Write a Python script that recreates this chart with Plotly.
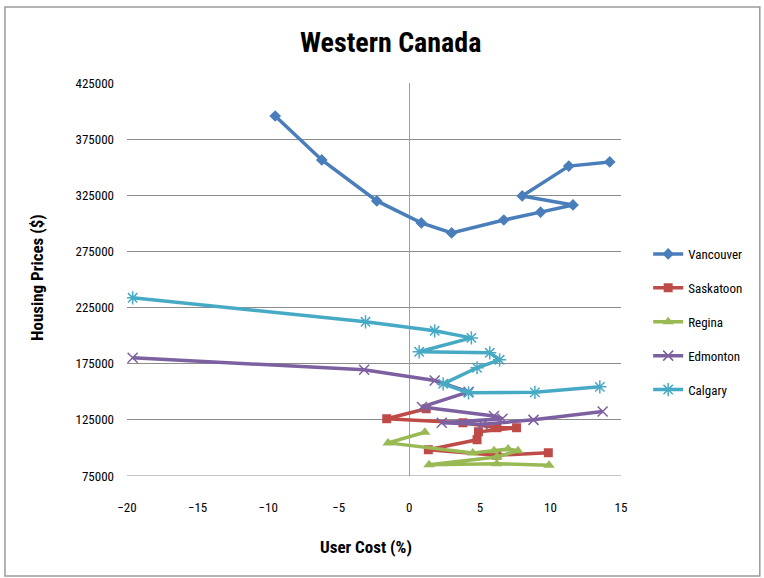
import plotly.graph_objects as go

# User cost (%) vs. housing prices ($) for western Canadian cities
van_x = [-9.5, -6.2, -2.3, 0.85, 3.0, 6.7, 9.3, 11.6, 8.0, 11.3, 14.2]
van_y = [395600, 356500, 320000, 300400, 291500, 303000, 310000, 316400, 324400, 351000, 354700]

sas_x = [1.2, -1.6, 3.8, 6.2, 7.6, 4.9, 4.8, 1.35, 6.2, 9.85]
sas_y = [134900, 126000, 122400, 118000, 118000, 114400, 107300, 98400, 93500, 95700]

reg_x = [1.1, -1.5, 4.5, 6.0, 7.0, 7.7, 6.2, 1.4, 6.2, 9.9]
reg_y = [114000, 104500, 95500, 97500, 99000, 97500, 92000, 85000, 86000, 84500]

edm_x = [-19.6, -3.2, 1.8, 4.2, 0.9, 6.0, 6.6, 2.3, 5.2, 8.8, 13.7]
edm_y = [180300, 169600, 160000, 150000, 136500, 128500, 126000, 122500, 121000, 125000, 132500]

cal_x = [-19.6, -3.1, 1.8, 4.4, 0.7, 5.7, 6.4, 4.8, 2.4, 4.2, 8.9, 13.5]
cal_y = [233700, 212300, 204300, 198000, 185600, 184700, 178500, 171400, 157100, 149100, 149500, 154400]

series = [
    ("Vancouver", van_x, van_y, "#4A7EBB", "diamond", 9),
    ("Saskatoon", sas_x, sas_y, "#BE4B48", "square", 9),
    ("Regina", reg_x, reg_y, "#98B954", "triangle-up", 10),
    ("Edmonton", edm_x, edm_y, "#7D60A0", "x-thin-open", 10),
    ("Calgary", cal_x, cal_y, "#46AAC5", "asterisk-open", 11),
]

font_family = "Liberation Sans Narrow, Roboto Condensed, Liberation Sans, Arial, sans-serif"

fig = go.Figure()
for name, xs, ys, color, sym, size in series:
    marker = dict(symbol=sym, size=size, color=color)
    if sym.endswith("open"):
        marker["line"] = dict(color=color, width=1.5)
    fig.add_trace(go.Scatter(
        x=xs, y=ys, name=name, legendgroup=name, mode="lines+markers",
        line=dict(color=color, width=3.5),
        marker=marker,
    ))

fig.update_layout(
    width=764, height=578,
    margin=dict(l=127, r=143, t=83, b=102),
    paper_bgcolor="white", plot_bgcolor="white",
    font=dict(family=font_family, size=13, color="#000000"),
    showlegend=True,
    legend=dict(
        x=1.055, y=(476 - 322) / 393, xanchor="left", yanchor="middle",
        font=dict(size=13, family=font_family),
        itemwidth=30, tracegroupgap=14,
        bgcolor="rgba(0,0,0,0)",
    ),
    xaxis=dict(
        range=[-20, 15], dtick=5, tick0=-20,
        showgrid=False, zeroline=True, zerolinecolor="#A0A0A0", zerolinewidth=1,
        showline=False, ticks="", ticklabelstandoff=22,
        tickfont=dict(size=13),
    ),
    yaxis=dict(
        range=[75000, 425000], dtick=50000, tick0=75000,
        showgrid=True, gridcolor="#8C8C8C", gridwidth=1,
        zeroline=False, showline=False, ticks="", ticklabelstandoff=12,
        tickformat="d", tickfont=dict(size=13),
    ),
    shapes=[
        dict(type="rect", xref="paper", yref="paper",
             x0=-0.247, x1=1.281, y0=-0.2545, y1=1.1934,
             line=dict(color="#9A9A9A", width=1.5), fillcolor="rgba(0,0,0,0)",
             layer="below"),
        dict(type="line", xref="paper", yref="y", x0=0, x1=1, y0=75000, y1=75000,
             line=dict(color="#8C8C8C", width=1)),
    ],
    annotations=[
        dict(text="<b>Western Canada</b>", xref="paper", yref="paper",
             x=(390 - 127) / 494, y=(476 - 43) / 393, xanchor="center", yanchor="middle",
             showarrow=False, font=dict(size=28, family=font_family)),
        dict(text="<b>User Cost (%)</b>", xref="paper", yref="paper",
             x=(366 - 127) / 494, y=(476 - 547) / 393, xanchor="center", yanchor="middle",
             showarrow=False, font=dict(size=17, family=font_family)),
        dict(text="<b>Housing Prices ($)</b>", xref="paper", yref="paper",
             x=(37 - 127) / 494, y=(476 - 278) / 393, xanchor="center", yanchor="middle",
             textangle=-90, showarrow=False, font=dict(size=17, family=font_family)),
    ],
)

fig.write_html("out.html")
